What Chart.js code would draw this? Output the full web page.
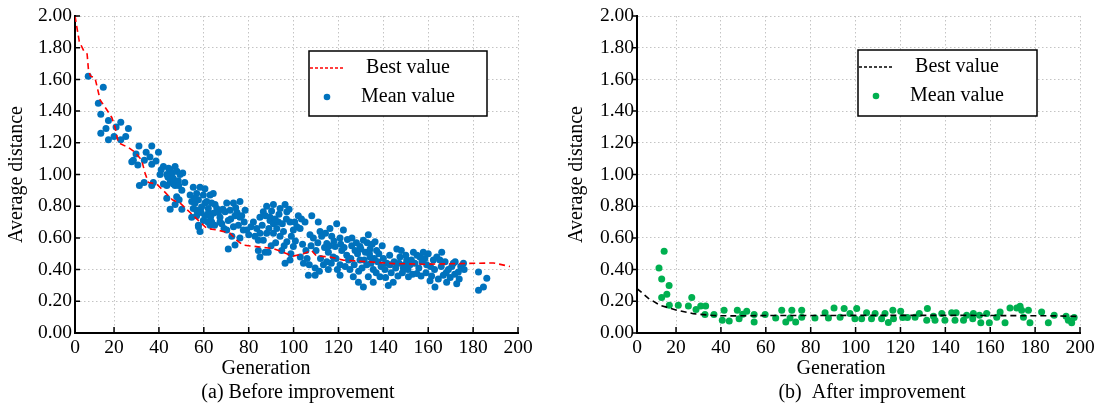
<!DOCTYPE html>
<html>
<head>
<meta charset="utf-8">
<script src="https://cdn.jsdelivr.net/npm/chart.js@4"></script>
<style>
  html, body { margin: 0; padding: 0; background: #fff; }
  #wrap { position: relative; width: 1102px; height: 405px; }
  .panel { position: absolute; top: 0; width: 551px; height: 405px; }
</style>
</head>
<body>
<div id="wrap">
  <div class="panel" style="left:0"><canvas id="before"></canvas></div>
  <div class="panel" style="left:551px"><canvas id="after"></canvas></div>
</div>
<script>
// x axis: the picture's y axis sits a little right of gen 0, the first tick is labelled "0"
const xAxisStart = 2.6;
const xTickLabels = ["0", "20", "40", "60", "80", "100", "120", "140", "160", "180", "200"];
const xTickValues = [xAxisStart, 20, 40, 60, 80, 100, 120, 140, 160, 180, 200];

// (a) before improvement
const beforeBestGen = [2.6, 4.5, 6.5, 8.0, 8.6, 9.5, 11.5, 12.5, 13.8, 16.7, 19.0, 20.4, 21.9, 26.4, 29.4, 32.3, 33.8, 35.3, 39.0, 41.9,
  46.0, 49.4, 53.9, 58.3, 61.3, 65.8, 71.7, 74.7, 77.6, 85.0, 91.0, 97.0, 99.9, 104.4, 108.0, 110.3, 116.2, 122.2, 129.6, 144.4,
  159.3, 174.2, 189.0, 196.4];
const beforeBestVal = [2.00, 1.84, 1.78, 1.76, 1.66, 1.62, 1.61, 1.55, 1.47, 1.41, 1.36, 1.30, 1.20, 1.17, 1.14, 1.09, 1.01, 0.95, 0.94, 0.90,
  0.84, 0.82, 0.76, 0.70, 0.66, 0.65, 0.63, 0.585, 0.554, 0.543, 0.533, 0.50, 0.485, 0.50, 0.52, 0.485, 0.48, 0.46, 0.453, 0.438,
  0.434, 0.438, 0.442, 0.42];

const beforeMeanGen = [
  8.5, 13.0, 14.1, 14.1, 15.2, 16.4, 17.5, 17.5, 20.0, 20.9, 23.0, 23.0, 25.2, 26.4,
  27.9, 28.6, 29.8, 30.6, 31.1, 31.3, 33.4, 33.5, 34.3, 36.0, 36.8, 36.8, 36.8, 37.5, 38.7, 39.8, 40.5,
  42.0, 42.0, 43.5, 44.0, 43.5, 43.5, 45.0, 45.0, 45.0, 46.0, 46.4, 46.4, 47.2, 47.2, 47.2, 47.9, 48.0, 48.6, 49.4, 50.2, 50.2, 50.6,
  41.0, 44.3, 48.8, 51.5, 49.0,
  53.9, 54.6, 54.6, 55.3, 55.3, 56.1, 56.8, 56.8, 56.8, 57.6, 57.6, 57.6, 58.3, 58.3, 59.0, 59.8, 59.8, 60.5, 60.5, 60.5, 61.3, 62.0,
  62.0, 62.8, 62.8, 63.5, 63.5, 64.2, 64.2, 65.0, 65.8,
  56.0, 58.8, 61.8, 63.0, 64.8, 66.5, 68.5, 69.0, 72.0, 74.8, 78.0, 80.0, 81.0, 82.8,
  67.2, 67.2, 68.0, 69.5, 70.2, 70.2, 70.9, 70.9, 71.7, 72.5, 73.2, 73.2, 73.9, 73.9, 74.2, 75.4, 76.1, 76.1, 76.1, 76.9, 77.6, 78.4, 79.1,
  82.1, 83.6, 84.3, 84.3, 85.0, 85.0, 85.0, 86.5, 86.5, 87.3, 88.0, 88.0, 88.7, 89.5, 89.5, 91.0, 91.0, 91.0, 93.2, 94.0, 94.0, 94.7,
  86.0, 87.5, 89.0, 90.2, 91.8, 92.5, 93.5, 95.0, 95.5, 96.8, 98.0, 99.0, 100.5, 101.5, 103.5, 92.0, 95.8, 98.8, 90.0,
  96.2, 96.2, 97.0, 97.0, 98.4, 98.4, 99.9, 99.9, 102.1, 102.9, 104.4, 105.1, 106.6, 107.3, 108.1, 109.6, 109.6, 111.0, 111.8,
  104.0, 105.5, 106.0, 107.8, 108.8, 110.0, 110.8, 112.0, 112.5, 113.8, 114.2, 116.0, 116.8, 118.0, 118.9, 119.5, 121.0, 122.5,
  123.0, 124.0, 124.5, 107.0, 111.5, 103.0, 100.8,
  113.3, 114.8, 114.8, 115.5, 115.5, 116.2, 117.0, 117.7, 118.5, 119.2, 120.7, 120.7, 120.7, 121.5, 122.2, 123.7, 125.1, 125.9, 126.6,
  127.4, 128.9, 129.6, 129.6,
  125.5, 126.0, 127.0, 128.0, 128.5, 129.0, 130.0, 130.5, 131.5, 132.8, 133.8, 134.5, 135.0, 136.0, 136.8, 137.5, 138.0, 139.0,
  139.5, 140.0, 141.0, 141.5,
  131.1, 131.1, 132.0, 132.6, 133.3, 133.3, 134.1, 134.1, 135.5, 135.5, 136.3, 137.0, 138.5, 140.7, 142.2, 143.0, 144.4, 146.0, 147.4,
  148.9, 150.4,
  142.8, 143.5, 144.8, 145.5, 146.5, 147.0, 148.0, 148.5, 149.5, 150.0, 151.0, 152.5, 153.0, 154.0, 155.0, 155.8, 156.8, 157.2,
  158.5, 159.0, 160.0, 161.0, 161.5, 162.8, 163.8, 164.5, 165.8, 167.5, 168.0, 169.8, 170.5, 171.8, 172.0, 173.8, 174.5, 176.0,
  151.2, 151.9, 153.4, 154.9, 156.3, 157.8, 159.3, 160.8, 162.3, 163.0, 165.2, 166.0, 166.7, 168.2, 169.0, 171.2, 172.7, 173.4, 175.7,
  182.4, 182.4, 184.6, 186.1];
const beforeMeanVal = [
  1.62, 1.45, 1.38, 1.26, 1.55, 1.29, 1.34, 1.22, 1.24, 1.30, 1.33, 1.22, 1.24, 1.29,
  1.08, 1.09, 1.13, 1.06, 1.18, 0.93, 0.95, 1.09, 1.14, 1.11, 1.18, 1.065, 0.93, 0.95, 1.085, 1.14, 1.00,
  1.05, 0.94, 1.00, 0.985, 0.93, 0.85, 1.03, 0.96, 0.78, 1.01, 0.94, 0.975, 1.05, 0.81, 0.93, 0.86, 1.02, 0.96, 1.00, 0.90, 0.78, 1.01,
  1.03, 1.04, 0.93, 0.95, 0.84,
  0.87, 0.83, 0.73, 0.92, 0.785, 0.82, 0.88, 0.74, 0.775, 0.84, 0.68, 0.67, 0.92, 0.64, 0.795, 0.87, 0.71, 0.91, 0.82, 0.74, 0.83, 0.785,
  0.755, 0.87, 0.68, 0.70, 0.82, 0.88, 0.755, 0.81, 0.785,
  0.85, 0.76, 0.70, 0.73, 0.68, 0.76, 0.78, 0.66, 0.72, 0.76, 0.70, 0.62, 0.67, 0.61,
  0.73, 0.70, 0.69, 0.765, 0.82, 0.65, 0.71, 0.53, 0.775, 0.61, 0.82, 0.67, 0.74, 0.555, 0.79, 0.68, 0.83, 0.73, 0.60, 0.74, 0.65, 0.775, 0.65,
  0.70, 0.66, 0.585, 0.52, 0.73, 0.63, 0.48, 0.765, 0.585, 0.51, 0.80, 0.63, 0.51, 0.73, 0.71, 0.81, 0.69, 0.63, 0.70, 0.785, 0.61, 0.52,
  0.68, 0.74, 0.66, 0.77, 0.72, 0.66, 0.75, 0.69, 0.64, 0.72, 0.78, 0.61, 0.70, 0.67, 0.72, 0.57, 0.55, 0.50, 0.55,
  0.81, 0.44, 0.765, 0.575, 0.70, 0.46, 0.65, 0.545, 0.74, 0.66, 0.44, 0.70, 0.365, 0.62, 0.74, 0.365, 0.41, 0.70, 0.64,
  0.56, 0.52, 0.47, 0.55, 0.60, 0.52, 0.57, 0.47, 0.61, 0.54, 0.63, 0.55, 0.44, 0.58, 0.47, 0.40, 0.56, 0.54,
  0.42, 0.59, 0.46, 0.43, 0.39, 0.48, 0.58,
  0.43, 0.565, 0.45, 0.51, 0.40, 0.66, 0.61, 0.48, 0.545, 0.69, 0.60, 0.43, 0.365, 0.52, 0.65, 0.49, 0.40, 0.55, 0.355,
  0.52, 0.32, 0.545, 0.46,
  0.47, 0.60, 0.43, 0.57, 0.50, 0.39, 0.53, 0.41, 0.46, 0.57, 0.50, 0.44, 0.56, 0.47, 0.38, 0.45, 0.50, 0.42,
  0.55, 0.47, 0.35, 0.44,
  0.585, 0.29, 0.51, 0.43, 0.62, 0.355, 0.53, 0.48, 0.40, 0.32, 0.575, 0.52, 0.355, 0.40, 0.30, 0.43, 0.32, 0.53, 0.48,
  0.41, 0.46,
  0.49, 0.38, 0.45, 0.41, 0.36, 0.44, 0.52, 0.38, 0.43, 0.49, 0.40, 0.46, 0.37, 0.44, 0.49, 0.41, 0.36, 0.45,
  0.47, 0.38, 0.50, 0.42, 0.36, 0.40, 0.48, 0.34, 0.42, 0.45, 0.38, 0.35, 0.42, 0.37, 0.45, 0.34, 0.42, 0.40,
  0.355, 0.43, 0.51, 0.375, 0.48, 0.51, 0.43, 0.33, 0.46, 0.29, 0.46, 0.51, 0.365, 0.32, 0.40, 0.44, 0.31, 0.385, 0.44,
  0.385, 0.27, 0.29, 0.345];

// (b) after improvement
const afterBestGen = [2.6, 4.7, 7.7, 12.9, 20.3, 27.7, 36.6, 45.4, 60, 100, 150, 190, 200];
const afterBestVal = [0.28, 0.255, 0.218, 0.175, 0.144, 0.122, 0.11, 0.108, 0.11, 0.111, 0.111, 0.108, 0.104];

const afterMeanGen = [12.4, 14.7, 13.6, 13.6, 15.9, 16.9, 17.0, 21.0, 25.5, 27.0, 28.9, 31.0, 33.2, 32.9, 36.9, 40.6, 41.4, 43.7,
  47.3, 48.1, 49.7, 51.5, 54.8, 54.8, 59.7, 64.4, 67.1, 68.9, 71.6, 70.8, 73.3, 76.0, 76.0, 81.9, 86.4, 87.9, 90.4, 93.1, 94.9,
  97.5, 100.5, 99.7, 102.7, 104.9, 107.1, 108.7, 111.6, 113.1, 114.6, 116.6, 116.9, 120.1, 121.0, 123.1, 126.5, 128.4, 132.0,
  131.7, 134.7, 135.4, 138.4, 139.8, 142.8, 144.3, 144.8, 148.1, 149.5, 152.5, 152.2, 155.2, 155.8, 158.4, 159.6, 162.9, 164.4,
  166.6, 168.8, 171.8, 173.3, 174.0, 174.8, 177.0, 177.7, 182.9, 185.9, 188.5, 193.8, 194.8, 196.3, 197.4];
const afterMeanVal = [0.41, 0.516, 0.34, 0.224, 0.245, 0.30, 0.175, 0.175, 0.17, 0.224, 0.148, 0.17, 0.17, 0.117, 0.117, 0.08, 0.144, 0.076,
  0.144, 0.09, 0.118, 0.137, 0.117, 0.07, 0.117, 0.095, 0.144, 0.07, 0.144, 0.095, 0.07, 0.144, 0.10, 0.095, 0.127, 0.095, 0.158, 0.10, 0.154,
  0.123, 0.154, 0.09, 0.09, 0.127, 0.09, 0.123, 0.09, 0.123, 0.066, 0.144, 0.09, 0.137, 0.098, 0.098, 0.10, 0.123, 0.154,
  0.08, 0.106, 0.08, 0.123, 0.08, 0.127, 0.08, 0.127, 0.08, 0.112, 0.123, 0.09, 0.112, 0.064, 0.123, 0.064, 0.10, 0.133,
  0.064, 0.158, 0.158, 0.169, 0.144, 0.10, 0.144, 0.064, 0.133, 0.064, 0.112, 0.106, 0.08, 0.064, 0.098];

const serif = '"Liberation Serif", "Times New Roman", serif';
Chart.defaults.font.family = serif;
Chart.defaults.color = "#000";

const toPoints = (xs, ys) => xs.map((x, i) => ({ x: x, y: ys[i] }));

// small tick marks like the original figure
const tickMarks = {
  id: "tickMarks",
  afterDatasetsDraw(chart, args, opts) {
    const { ctx, chartArea, scales } = chart;
    ctx.save();
    ctx.strokeStyle = "#000";
    ctx.lineWidth = 1.5;
    ctx.beginPath();
    scales.x.ticks.forEach((t) => {
      const px = scales.x.getPixelForValue(t.value);
      ctx.moveTo(px, chartArea.bottom);
      ctx.lineTo(px, chartArea.bottom - 6);
    });
    scales.y.ticks.forEach((t) => {
      const py = scales.y.getPixelForValue(t.value);
      ctx.moveTo(chartArea.left, py);
      ctx.lineTo(chartArea.left + opts.yDir * 5, py);
    });
    ctx.stroke();
    ctx.restore();
  }
};

// x axis name and panel caption, placed where the original has them
const captions = {
  id: "captions",
  afterDraw(chart, args, opts) {
    const { ctx } = chart;
    ctx.save();
    ctx.fillStyle = "#000";
    ctx.font = "20px " + serif;
    ctx.textAlign = "center";
    ctx.textBaseline = "middle";
    ctx.fillText(opts.axisName, opts.axisX, 369);
    ctx.fillText(opts.caption, opts.captionX, 393);
    ctx.restore();
  }
};

// boxed legend inside the plot
const boxLegend = {
  id: "boxLegend",
  afterDraw(chart, args, opts) {
    const { ctx, chartArea } = chart;
    const best = chart.data.datasets[0];
    const mean = chart.data.datasets[1];
    const x = chartArea.left + opts.x;
    const y = chartArea.top + opts.y;
    ctx.save();
    ctx.fillStyle = "#fff";
    ctx.fillRect(x, y, opts.w, opts.h);
    ctx.strokeStyle = "#000";
    ctx.lineWidth = 1.5;
    ctx.strokeRect(x, y, opts.w, opts.h);

    ctx.strokeStyle = best.borderColor;
    ctx.setLineDash([3, 2]);
    ctx.beginPath();
    ctx.moveTo(x + 1, y + 17);
    ctx.lineTo(x + 36, y + 17);
    ctx.stroke();
    ctx.setLineDash([]);

    ctx.fillStyle = mean.backgroundColor;
    ctx.beginPath();
    ctx.arc(x + 18, y + 46, 3.3, 0, Math.PI * 2);
    ctx.fill();

    ctx.fillStyle = "#000";
    ctx.font = "20px " + serif;
    ctx.textAlign = "center";
    ctx.textBaseline = "middle";
    ctx.fillText(best.label, x + 99, y + 17);
    ctx.fillText(mean.label, x + 99, y + 46);
    ctx.restore();
  }
};

function makeChart(id, cfg) {
  const ctx = document.getElementById(id).getContext("2d");
  return new Chart(ctx, {
    type: "scatter",
    data: {
      datasets: [
        {
          type: "line",
          label: "Best value",
          data: toPoints(cfg.bestGen, cfg.bestVal),
          borderColor: cfg.lineColor,
          borderWidth: 1.6,
          borderDash: [6, 4],
          pointRadius: 0,
          fill: false,
          tension: 0
        },
        {
          label: "Mean value",
          data: toPoints(cfg.meanGen, cfg.meanVal),
          backgroundColor: cfg.dotColor,
          borderWidth: 0,
          pointRadius: 3.5
        }
      ]
    },
    options: {
      animation: false,
      responsive: true,
      maintainAspectRatio: false,
      layout: { padding: { left: 0, right: cfg.padRight, top: 16, bottom: 0 } },
      plugins: {
        legend: { display: false },
        tooltip: { enabled: false },
        tickMarks: { yDir: cfg.yDir },
        boxLegend: cfg.legendBox,
        captions: { axisName: "Generation", axisX: cfg.axisX, caption: cfg.caption, captionX: cfg.captionX }
      },
      scales: {
        x: {
          type: "linear",
          min: xAxisStart,
          max: 200,
          afterBuildTicks: (axis) => {
            axis.ticks = xTickValues.map((v) => ({ value: v }));
          },
          afterFit: (axis) => { axis.height = 72; },
          ticks: {
            autoSkip: false,
            maxRotation: 0,
            padding: 3,
            font: { size: 19.5 },
            callback: (value, index) => xTickLabels[index]
          },
          grid: { color: "#c4c4c4", lineWidth: 1, drawTicks: false },
          border: { color: "#000", width: 2, dash: [1.5, 2.5] },
          title: { display: false }
        },
        y: {
          min: 0,
          max: 2,
          ticks: {
            stepSize: 0.2,
            padding: 3,
            font: { size: 19.5 },
            callback: (v) => v.toFixed(2)
          },
          afterFit: (axis) => { axis.width = cfg.yWidth; },
          grid: { color: "#c4c4c4", lineWidth: 1, drawTicks: false },
          border: { color: "#000", width: 2, dash: [1.5, 2.5] },
          title: {
            display: true,
            text: "Average distance",
            font: { size: 20, lineHeight: 1.2 },
            padding: { top: cfg.yTitlePad, bottom: 0 }
          }
        }
      }
    },
    plugins: [tickMarks, boxLegend, captions]
  });
}

makeChart("before", {
  bestGen: beforeBestGen, bestVal: beforeBestVal,
  meanGen: beforeMeanGen, meanVal: beforeMeanVal,
  lineColor: "#ff0000", dotColor: "#0072bd",
  caption: "(a) Before improvement", axisX: 266, captionX: 298,
  yWidth: 75, padRight: 33, yTitlePad: 5, yDir: 1,
  legendBox: { x: 234, y: 35, w: 178, h: 65 }
});

makeChart("after", {
  bestGen: afterBestGen, bestVal: afterBestVal,
  meanGen: afterMeanGen, meanVal: afterMeanVal,
  lineColor: "#000000", dotColor: "#00b050",
  caption: "(b)  After improvement", axisX: 290, captionX: 321,
  yWidth: 86, padRight: 22, yTitlePad: 14, yDir: -1,
  legendBox: { x: 221, y: 34, w: 179, h: 66 }
});
</script>
</body>
</html>
